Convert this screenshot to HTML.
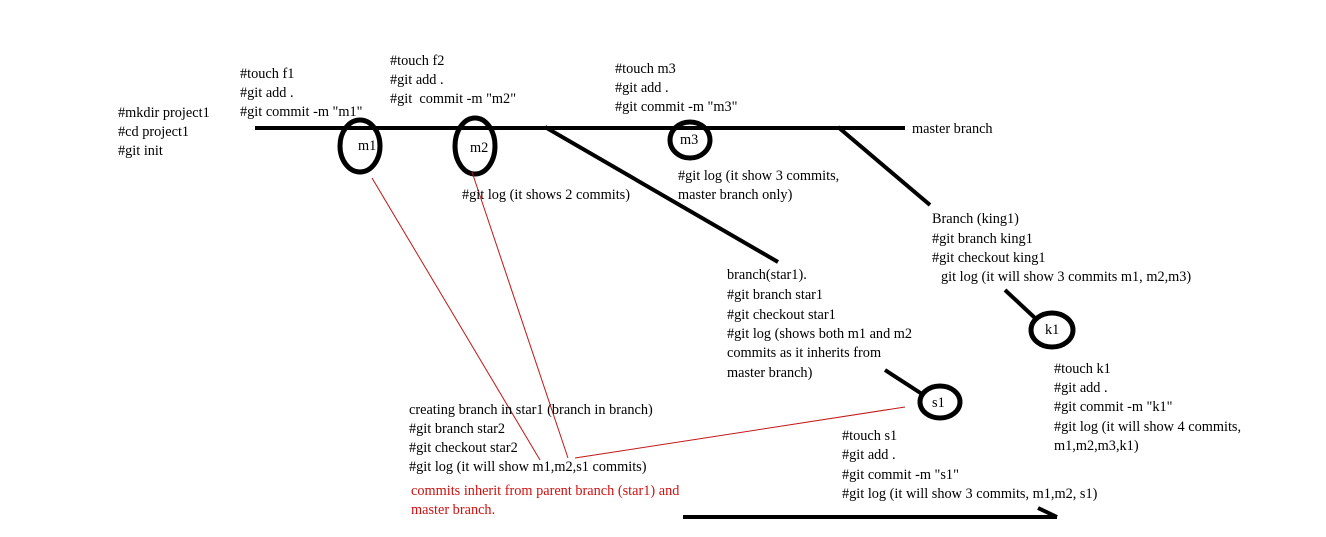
<!DOCTYPE html>
<html><head><meta charset="utf-8"><style>
html,body{margin:0;padding:0;background:#fff;}
svg{display:block;}
text{font-family:"Liberation Serif",serif;font-size:14.3px;fill:#000;dominant-baseline:central;}
.r{fill:#d01010;}
</style></head><body>
<svg width="1326" height="537" viewBox="0 0 1326 537" xmlns="http://www.w3.org/2000/svg">
<g stroke="#000" stroke-width="4" fill="none" stroke-linecap="butt">
<line x1="255" y1="128" x2="905" y2="128"/>
<line x1="545" y1="127" x2="778" y2="262"/>
<line x1="838" y1="127" x2="930" y2="205"/>
<line x1="1005" y1="290" x2="1035" y2="318"/>
<line x1="885" y1="370" x2="922" y2="394"/>
<line x1="683" y1="517" x2="1057" y2="517"/>
<line x1="1038" y1="508" x2="1057" y2="517"/>
</g>
<g stroke="#000" stroke-width="5" fill="none">
<ellipse cx="360" cy="146" rx="20" ry="26"/>
<ellipse cx="475" cy="146" rx="20" ry="28"/>
<ellipse cx="690" cy="140" rx="20" ry="18"/>
<ellipse cx="1052" cy="330" rx="21" ry="17"/>
<ellipse cx="940" cy="402" rx="20" ry="16"/>
</g>
<g stroke="#c01818" stroke-width="1">
<line x1="372" y1="178" x2="540" y2="460"/>
<line x1="472" y1="172" x2="568" y2="458"/>
<line x1="905" y1="407" x2="575" y2="458"/>
</g>
<text x="358" y="146">m1</text>
<text x="470" y="148">m2</text>
<text x="680" y="140">m3</text>
<text x="1045" y="330">k1</text>
<text x="932" y="403">s1</text>

<text x="240" y="74">#touch f1</text>
<text x="240" y="93">#git add .</text>
<text x="240" y="112">#git commit -m "m1"</text>

<text x="118" y="113">#mkdir project1</text>
<text x="118" y="132">#cd project1</text>
<text x="118" y="151">#git init</text>

<text x="390" y="61">#touch f2</text>
<text x="390" y="80">#git add .</text>
<text x="390" y="99">#git&#160; commit -m "m2"</text>

<text x="615" y="69">#touch m3</text>
<text x="615" y="88">#git add .</text>
<text x="615" y="107">#git commit -m "m3"</text>

<text x="912" y="129">master branch</text>
<text x="462" y="195">#git log (it shows 2 commits)</text>
<text x="678" y="176">#git log (it show 3 commits,</text>
<text x="678" y="195">master branch only)</text>

<text x="932" y="219">Branch (king1)</text>
<text x="932" y="239">#git branch king1</text>
<text x="932" y="258">#git checkout king1</text>
<text x="941" y="277">git log (it will show 3 commits m1, m2,m3)</text>

<text x="727" y="275">branch(star1).</text>
<text x="727" y="295">#git branch star1</text>
<text x="727" y="315">#git checkout star1</text>
<text x="727" y="334">#git log (shows both m1 and m2</text>
<text x="727" y="353">commits as it inherits from</text>
<text x="727" y="373">master branch)</text>

<text x="1054" y="369">#touch k1</text>
<text x="1054" y="388">#git add .</text>
<text x="1054" y="407">#git commit -m "k1"</text>
<text x="1054" y="427">#git log (it will show 4 commits,</text>
<text x="1054" y="446">m1,m2,m3,k1)</text>

<text x="409" y="410">creating branch in star1 (branch in branch)</text>
<text x="409" y="429">#git branch star2</text>
<text x="409" y="448">#git checkout star2</text>
<text x="409" y="467">#git log (it will show m1,m2,s1 commits)</text>
<text class="r" x="411" y="491">commits inherit from parent branch (star1) and</text>
<text class="r" x="411" y="510">master branch.</text>

<text x="842" y="436">#touch s1</text>
<text x="842" y="455">#git add .</text>
<text x="842" y="475">#git commit -m "s1"</text>
<text x="842" y="494">#git log (it will show 3 commits, m1,m2, s1)</text>
</svg>
</body></html>
